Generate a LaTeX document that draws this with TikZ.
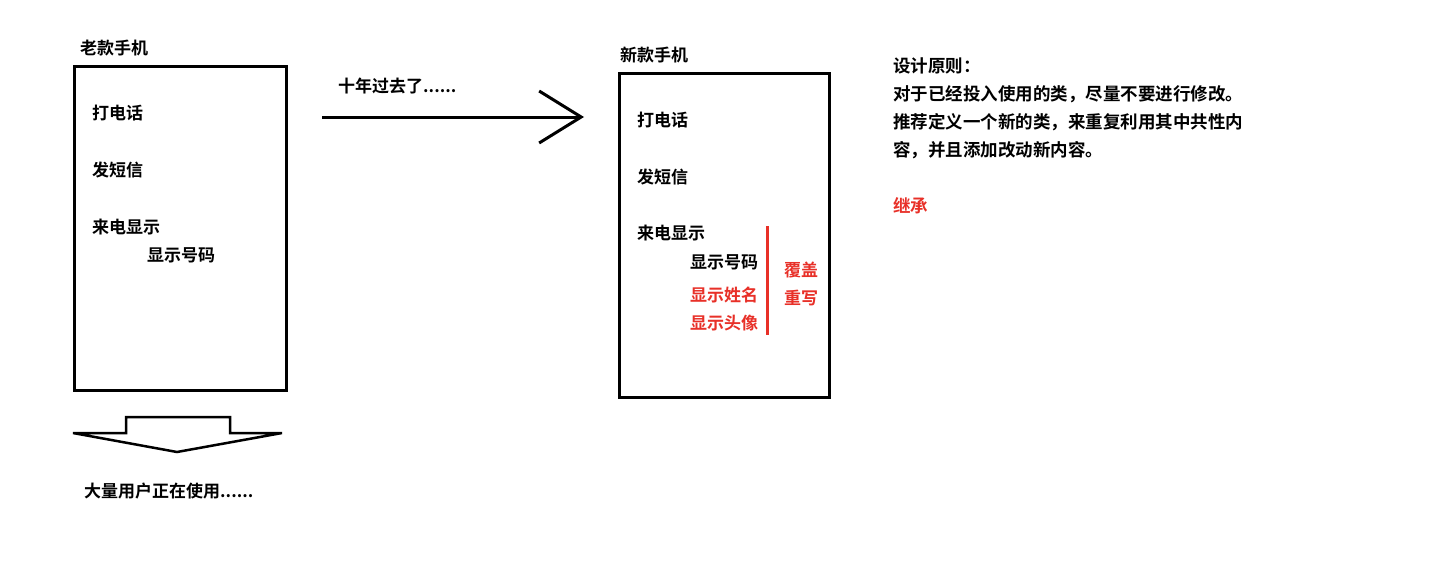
\documentclass[tikz,border=0pt]{standalone}
\usepackage{fontspec}
\newfontfamily\cjk{Noto Sans CJK SC}[BoldFont={Noto Sans CJK SC Bold}]
\usetikzlibrary{positioning, arrows.meta}
\definecolor{markred}{RGB}{232,48,40}
\tikzset{
phonebox/.style={draw, line width=3pt, minimum width=212pt, minimum height=324pt, inner sep=0pt}, % the phone outlines
txt/.style={anchor=west, inner sep=0pt, font=\cjk\bfseries\fontsize{17}{20}\selectfont}, % black captions
redtxt/.style={txt, text=markred}, % red captions
note/.style={txt, font=\cjk\bfseries\fontsize{17.5}{20}\selectfont}, % the notes on the right
}
\begin{document}
\begin{tikzpicture}[x=1pt, y=-1pt]
                \fill[white] (0,0) rectangle (1432,576);
                \useasboundingbox (0,0) rectangle (1432,576);

                % old phone
                \node[phonebox] (old) at (180,228) {};
                \node[txt] (oldtitle) at (80,48) {老款手机};
                \node[txt] (oldcall) at (92,113) {打电话};
                \node[txt] (oldsms) at (92,170) {发短信};
                \node[txt] (oldshow) at (92,227) {来电显示};
                \node[txt] (oldnum) at (147,255) {显示号码};

                % new phone
                \node[phonebox, minimum width=210pt] (new) at (724,235) {};
                \node[txt] (newtitle) at (620,55) {新款手机};
                \node[txt] (newcall) at (637,120) {打电话};
                \node[txt] (newsms) at (637,177) {发短信};
                \node[txt] (newshow) at (637,233) {来电显示};
                \node[txt] (newnum) at (690,262) {显示号码};
                \node[redtxt] (newname) at (690,295) {显示姓名};
                \node[redtxt] (newface) at (690,323) {显示头像};
                \node[redtxt] (cover) at (784,270) {覆盖};
                \node[redtxt] (rewrite) at (784,298) {重写};
                \coordinate (bartop) at (767,226);
                \coordinate (barbot) at (767,335);
                \draw[markred, line width=3pt] (bartop) -- (barbot);

                % ten years later
                \node[txt] (decade) at (338,86) {十年过去了......};
                \coordinate (arrstart) at (322,117);
                \coordinate (arrend) at (584,117);
                \draw[line width=3pt, -{Straight Barb[length=42pt, width=52pt]}] (arrstart) -- (arrend);

                % still in use
                \draw[line width=2.5pt, line join=miter]
                    (73,433) -- (126,433) -- (126,417) -- (230,417) -- (230,433) -- (282,433) -- (177,452) -- cycle;
                \node[txt] (users) at (84,491) {大量用户正在使用......};

                % design notes
                \node[note] (rule) at (893,66) {设计原则：};
                \node[note] (line1) at (893,94) {对于已经投入使用的类，尽量不要进行修改。};
                \node[note] (line2) at (893,122) {推荐定义一个新的类，来重复利用其中共性内};
                \node[note] (line3) at (893,150) {容，并且添加改动新内容。};
                \node[note, text=markred] (inherit) at (893,206) {继承};
\end{tikzpicture}
\end{document}
